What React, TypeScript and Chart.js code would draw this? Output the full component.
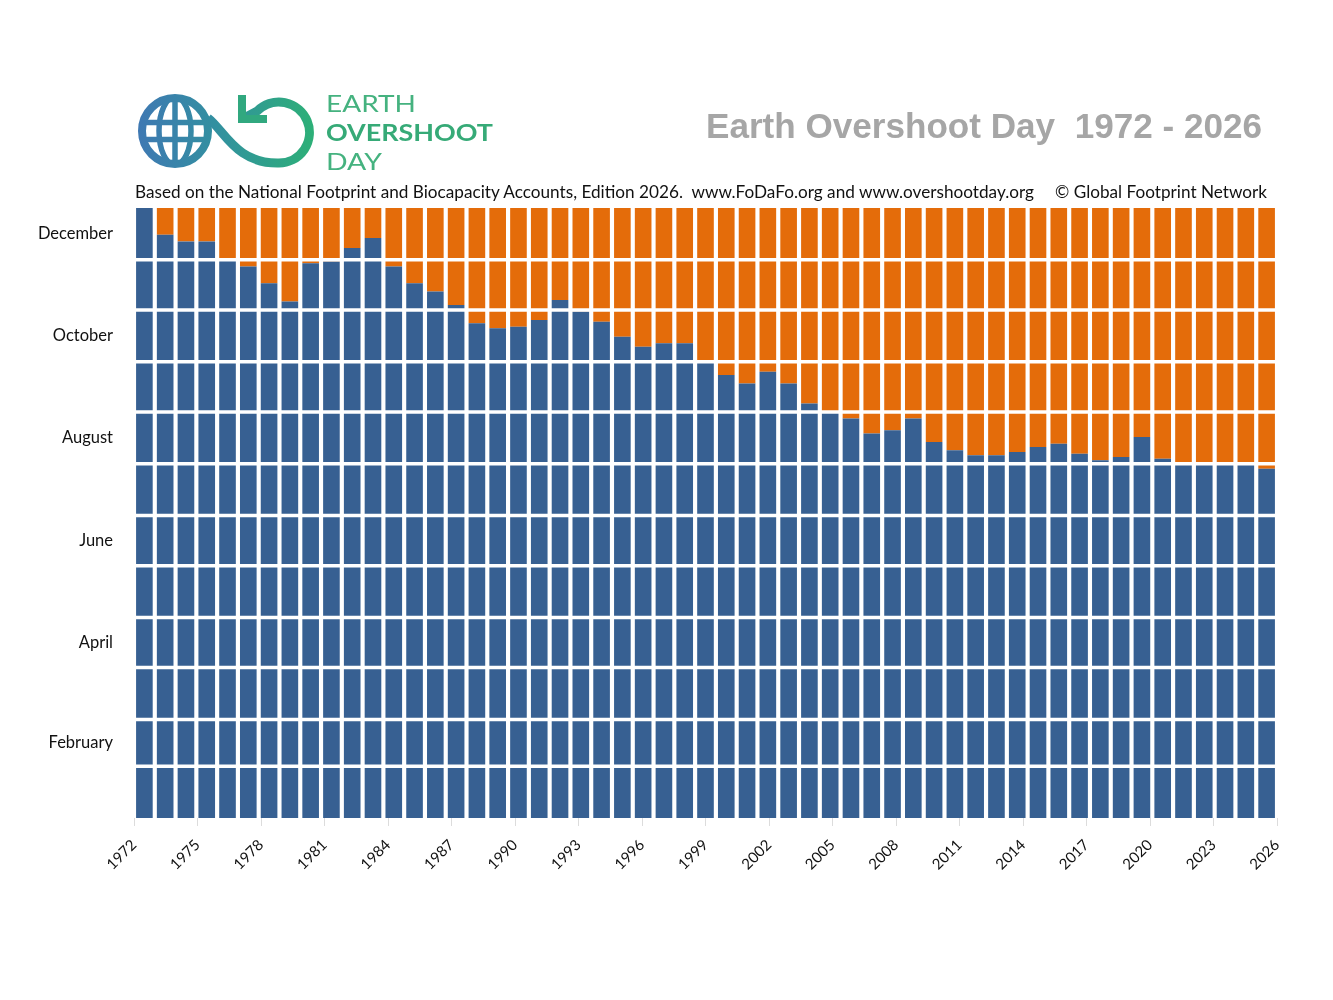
import React, { useEffect, useRef } from 'react';
import { Chart, registerables } from 'chart.js';

Chart.register(...registerables);

// ---------- data ----------
const years: string[] = [
  '1972', '1973', '1974', '1975', '1976', '1977', '1978', '1979', '1980', '1981',
  '1982', '1983', '1984', '1985', '1986', '1987', '1988', '1989', '1990', '1991',
  '1992', '1993', '1994', '1995', '1996', '1997', '1998', '1999', '2000', '2001',
  '2002', '2003', '2004', '2005', '2006', '2007', '2008', '2009', '2010', '2011',
  '2012', '2013', '2014', '2015', '2016', '2017', '2018', '2019', '2020', '2021',
  '2022', '2023', '2024', '2025', '2026',
];

// Day of the year on which Earth Overshoot Day falls (365 = no overshoot)
const overshootDay: number[] = [
  365, 349, 345, 345, 334, 330, 320, 309, 332, 333,
  341, 347, 330, 320, 315, 307, 296, 293, 294, 298,
  310, 303, 297, 288, 282, 284, 284, 273, 265, 260,
  267, 260, 248, 243, 239, 230, 232, 239, 225, 220,
  217, 217, 219, 222, 224, 218, 214, 216, 228, 215,
  212, 212, 212, 212, 209,
];

const daysInYear = 365;
const monthNames: string[] = [
  'January', 'February', 'March', 'April', 'May', 'June',
  'July', 'August', 'September', 'October', 'November', 'December',
];
const monthDays: number[] = [31, 28, 31, 30, 31, 30, 31, 31, 30, 31, 30, 31];
const yAxisMonths: string[] = ['February', 'April', 'June', 'August', 'October', 'December'];
const xTickYears: number[] = [
  1972, 1975, 1978, 1981, 1984, 1987, 1990, 1993, 1996, 1999,
  2002, 2005, 2008, 2011, 2014, 2017, 2020, 2023, 2026,
];

const TITLE = 'Earth Overshoot Day  1972 - 2026';
const SUBTITLE_LEFT =
  'Based on the National Footprint and Biocapacity Accounts, Edition 2026.  www.FoDaFo.org and www.overshootday.org';
const SUBTITLE_RIGHT = '\u00A9 Global Footprint Network';
const LOGO_LINES: string[] = ['EARTH', 'OVERSHOOT', 'DAY'];

const BLUE = '#376092';
const ORANGE = '#E46C0A';

// month start offsets
const monthStart: number[] = monthDays.reduce<number[]>((acc, d, i) => {
  acc.push(i === 0 ? 0 : acc[i - 1] + monthDays[i - 1]);
  return acc;
}, []);
const monthBoundaries: number[] = monthStart.slice(1);
const yTickValues: number[] = yAxisMonths.map((m) => {
  const i = monthNames.indexOf(m);
  return monthStart[i] + monthDays[i] / 2;
});

const monthLinesPlugin = {
  id: 'monthLines',
  afterDatasetsDraw(chart: any) {
    const { ctx, chartArea, scales } = chart;
    const y = scales.y;
    ctx.save();
    ctx.strokeStyle = '#ffffff';
    ctx.lineWidth = 3.5;
    monthBoundaries.forEach((d) => {
      const py = y.getPixelForValue(d);
      ctx.beginPath();
      ctx.moveTo(chartArea.left, py);
      ctx.lineTo(chartArea.right, py);
      ctx.stroke();
    });
    ctx.restore();
  },
};

function Logo() {
  return (
    <g>
      <defs>
        <linearGradient id="logoGrad" x1="137" y1="0" x2="312" y2="0" gradientUnits="userSpaceOnUse">
          <stop offset="0" stopColor="#3f78b3" />
          <stop offset="0.45" stopColor="#3290a0" />
          <stop offset="1" stopColor="#2daf78" />
        </linearGradient>
        <clipPath id="globeClip">
          <circle cx={175} cy={131} r={34} />
        </clipPath>
      </defs>
      {/* infinity stroke with the loop */}
      <path
        d="M 208 118 C 224 130, 236 164, 279 163 A 30.5 30.5 0 1 0 257.4 110.9 L 246 117"
        fill="none"
        stroke="url(#logoGrad)"
        strokeWidth={9}
      />
      {/* arrow head */}
      <path d="M 242 95 L 242 119 L 267 119" fill="none" stroke="#31a87f" strokeWidth={8} strokeLinejoin="miter" />
      {/* globe */}
      <circle cx={175} cy={131} r={33} fill="#ffffff" stroke="url(#logoGrad)" strokeWidth={8} />
      <g clipPath="url(#globeClip)" stroke="url(#logoGrad)" strokeWidth={5.5} fill="none">
        <line x1={138} y1={122.5} x2={214} y2={122.5} />
        <line x1={138} y1={139.5} x2={214} y2={139.5} />
        <line x1={175} y1={95} x2={175} y2={168} />
        <ellipse cx={175} cy={131} rx={16} ry={34} />
      </g>
      <text x={326} y={112} fontFamily="Lato, 'DejaVu Sans', sans-serif" fontSize={23} fill="#45b27f" textLength={90} lengthAdjust="spacingAndGlyphs">{LOGO_LINES[0]}</text>
      <text x={326} y={141} fontFamily="Lato, 'DejaVu Sans', sans-serif" fontWeight="bold" fontSize={23} fill="#36aa77" textLength={167} lengthAdjust="spacingAndGlyphs">{LOGO_LINES[1]}</text>
      <text x={326} y={170} fontFamily="Lato, 'DejaVu Sans', sans-serif" fontSize={23} fill="#45b27f" textLength={56} lengthAdjust="spacingAndGlyphs">{LOGO_LINES[2]}</text>
    </g>
  );
}

export default function App() {
  const canvasRef = useRef<HTMLCanvasElement | null>(null);

  useEffect(() => {
    const canvas = canvasRef.current;
    if (!canvas) return;
    const chart = new Chart(canvas, {
      type: 'bar',
      data: {
        labels: years,
        datasets: [
          {
            label: 'Overshoot day',
            data: overshootDay,
            backgroundColor: BLUE,
            borderWidth: 0,
            barPercentage: 0.8,
            categoryPercentage: 1,
            xAxisID: 'x',
            yAxisID: 'y',
          },
          {
            label: 'Rest of year',
            data: overshootDay.map((d) => daysInYear - d),
            backgroundColor: ORANGE,
            borderWidth: 0,
            barPercentage: 0.8,
            categoryPercentage: 1,
            xAxisID: 'x',
            yAxisID: 'y',
          },
        ],
      },
      options: {
        responsive: false,
        animation: false,
        devicePixelRatio: 1,
        layout: { padding: { top: 208, right: 56, bottom: 0, left: 0 } },
        plugins: {
          legend: { display: false },
          tooltip: { enabled: false },
          title: { display: false },
        },
        scales: {
          x: {
            type: 'category',
            stacked: true,
            display: false,
            offset: true,
            grid: { display: false },
          },
          x2: {
            type: 'linear',
            position: 'bottom',
            min: 1972,
            max: 2026,
            offset: false,
            afterBuildTicks: (scale: any) => {
              scale.ticks = xTickYears.map((v) => ({ value: v }));
            },
            afterFit: (scale: any) => {
              scale.height = 182;
            },
            ticks: {
              autoSkip: false,
              maxRotation: 45,
              minRotation: 45,
              padding: 10,
              color: '#111111',
              font: { family: 'Lato, "Open Sans", sans-serif', size: 15 },
              callback: (v: any) => String(v),
            },
            grid: { offset: false, drawOnChartArea: false, drawTicks: true, tickLength: 8, color: '#dcdcdc' },
            border: { display: false },
          },
          y: {
            type: 'linear',
            stacked: true,
            min: 0,
            max: daysInYear,
            afterBuildTicks: (scale: any) => {
              scale.ticks = yTickValues.map((v) => ({ value: v }));
            },
            afterFit: (scale: any) => {
              scale.width = 134;
            },
            ticks: {
              padding: 21,
              color: '#111111',
              font: { family: 'Lato, "Open Sans", sans-serif', size: 16.5 },
              callback: (_v: any, i: number) => yAxisMonths[i],
            },
            grid: { display: false, drawTicks: false },
            border: { display: false },
          },
        },
      } as any,
      plugins: [monthLinesPlugin],
    });
    return () => chart.destroy();
  }, []);

  return (
    <div style={{ position: 'absolute', left: 0, top: 0, width: 1333, height: 1000, background: '#ffffff' }}>
      <canvas
        ref={canvasRef}
        width={1333}
        height={1000}
        style={{ position: 'absolute', left: 0, top: 0, width: 1333, height: 1000 }}
      />
      <svg
        width={1333}
        height={1000}
        style={{ position: 'absolute', left: 0, top: 0, pointerEvents: 'none' }}
      >
        <Logo />
        <text
          x={706}
          y={138}
          fontFamily="'Liberation Sans', Arial, sans-serif"
          fontWeight="bold"
          fontSize={35}
          fill="#a6a6a6"
          textLength={556}
          lengthAdjust="spacingAndGlyphs"
          style={{ whiteSpace: 'pre' }}
        >
          {TITLE}
        </text>
        <text
          x={135}
          y={198}
          fontFamily="Lato, 'Open Sans', sans-serif"
          fontSize={16.5}
          fill="#111111"
          textLength={899}
          lengthAdjust="spacingAndGlyphs"
          style={{ whiteSpace: 'pre' }}
        >
          {SUBTITLE_LEFT}
        </text>
        <text
          x={1055}
          y={198}
          fontFamily="Lato, 'Open Sans', sans-serif"
          fontSize={16.5}
          fill="#111111"
          textLength={212}
          lengthAdjust="spacingAndGlyphs"
        >
          {SUBTITLE_RIGHT}
        </text>
      </svg>
    </div>
  );
}
